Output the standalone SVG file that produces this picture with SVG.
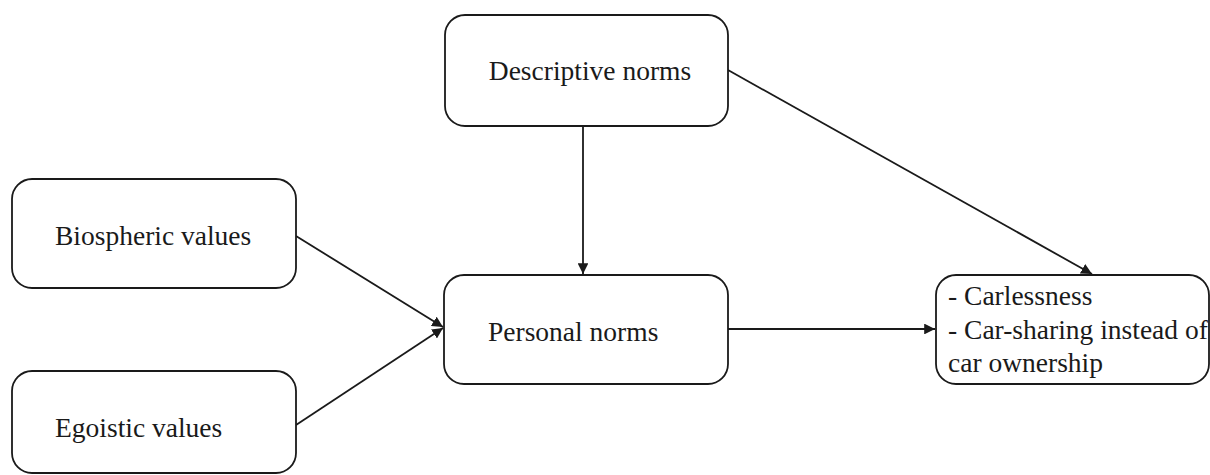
<svg xmlns="http://www.w3.org/2000/svg" width="1210" height="475" viewBox="0 0 1210 475">
<style>
.box{fill:#fff;stroke:#1a1a1a;stroke-width:1.8}
.t{font-family:"Liberation Serif","Times New Roman",serif;font-size:27.5px;fill:#1a1a1a}
.c{stroke:#1a1a1a;stroke-width:1.8;fill:none;marker-end:url(#ah)}
</style>
<defs>
<marker id="ah" viewBox="0 0 10 10" refX="10" refY="5" markerWidth="6" markerHeight="6" orient="auto" markerUnits="strokeWidth">
<path d="M0,0 L10,5 L0,10 z" fill="#1a1a1a"/>
</marker>
</defs>
<rect width="1210" height="475" fill="#fff"/>
<g id="connectors">
<line class="c" x1="583" y1="126" x2="583" y2="274"/>
<line class="c" x1="296" y1="236" x2="443" y2="327"/>
<line class="c" x1="296" y1="425" x2="443" y2="328"/>
<line class="c" x1="728" y1="329" x2="935" y2="329"/>
<line class="c" x1="728" y1="70" x2="1092" y2="274"/>
</g>
<g id="descriptive">
<rect class="box" x="445" y="15" width="283" height="111" rx="20"/>
<text class="t" x="590" y="80" text-anchor="middle">Descriptive norms</text>
</g>
<g id="biospheric">
<rect class="box" x="12" y="179" width="284" height="109" rx="20"/>
<text class="t" x="55" y="245">Biospheric values</text>
</g>
<g id="egoistic">
<rect class="box" x="12" y="371" width="284" height="102" rx="20"/>
<text class="t" x="55" y="437">Egoistic values</text>
</g>
<g id="personal">
<rect class="box" x="444" y="275" width="284" height="109" rx="20"/>
<text class="t" x="488" y="341">Personal norms</text>
</g>
<g id="outcome">
<rect class="box" x="936" y="275" width="273" height="109" rx="20"/>
<text class="t" x="948" y="305">- Carlessness</text>
<text class="t" x="948" y="339">- Car-sharing instead of</text>
<text class="t" x="948" y="372">car ownership</text>
</g>
</svg>
